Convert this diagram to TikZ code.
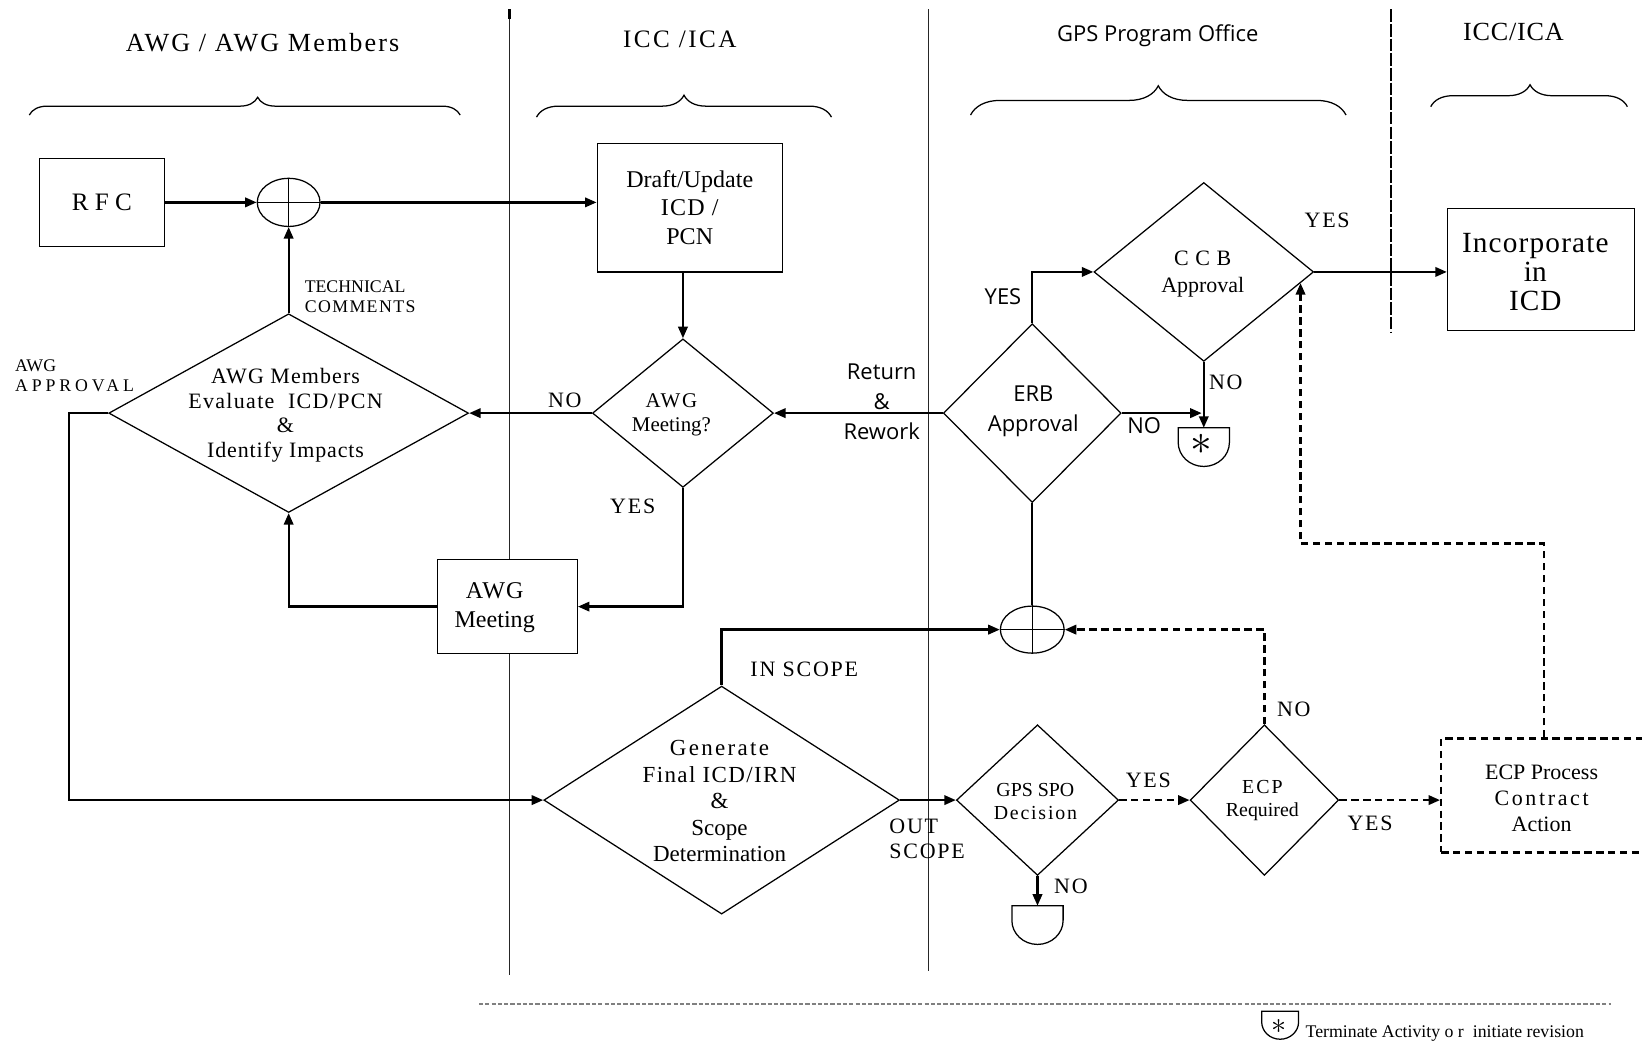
\documentclass[tikz,border=0pt]{standalone}
\usepackage{fontspec}
\setmainfont{Liberation Serif}
\newfontfamily\sansf{Open Sans}
\usetikzlibrary{shapes.geometric,arrows.meta,decorations.pathreplacing,calc}
\newcommand\fsz[2]{\fontsize{#1}{#2}\selectfont}
\newcommand\lsp[2]{{\addfontfeatures{LetterSpace=#1}#2}}
\begin{document}
\begin{tikzpicture}[x=0.5pt,y=-0.5pt,line join=miter,
  box/.style={draw, line width=0.6pt, fill=white, inner sep=0pt, align=center},
  dia/.style={draw, diamond, line width=0.6pt, fill=white, inner sep=0pt},
  junc/.style={draw, ellipse, line width=0.6pt, fill=white, inner sep=0pt},
  conn/.style={line width=1.1pt, -{Triangle[length=5.5pt,width=4.5pt]}},
  plainconn/.style={line width=1.1pt},
  dconn/.style={conn, dash pattern=on 3.5pt off 2.2pt},
  txt/.style={inner sep=0pt, align=center},
  lab/.style={txt, font={\fsz{10.5}{12}\addfontfeatures{LetterSpace=8}}},
  slab/.style={txt, font={\sansf\fsz{10.5}{12}}},
  lane/.style={line width=0.5pt, black!85},
  brc/.style={line width=0.6pt, decorate},
  term/.pic={\draw[line width=0.6pt, fill=white] (-24.5,0) -- (24.5,0) -- (24.5,14)
     .. controls (24.5,26.7) and (13.5,37) .. (0,37)
     .. controls (-13.5,37) and (-24.5,26.7) .. (-24.5,14) -- cycle;}
]
\useasboundingbox (0,0) rectangle (1570,998);
\fill[white] (0,0) rectangle (1570,998);

% lanes
\draw[lane] (487,9) -- (487,932);
\draw[line width=1.5pt] (487,9) -- (487,18);
\draw[lane] (888,9) -- (888,928);
\draw[line width=1pt, dash pattern=on 6pt off 1pt] (1330,9) -- (1330,318);

% headers
\node[txt, font=\fsz{12.5}{14}] (h1) at (251,41) {\lsp{8}{AWG / AWG Members}};
\node[txt, font=\fsz{12}{14}] (h2) at (650,38) {\lsp{10}{ICC /ICA}};
\node[txt, font=\sansf\fsz{10.5}{12}] (h3) at (1107,34) {GPS Program Office};
\node[txt, font=\fsz{12.5}{14}] (h4) at (1447,31) {\lsp{3}{ICC/ICA}};

% braces
\draw[brc, decoration={brace, amplitude=8.5pt, aspect=0.53}] (28,110) -- (440,110);
\draw[brc, decoration={brace, amplitude=10.5pt, aspect=0.5}] (513,112) -- (795,112);
\draw[brc, decoration={brace, amplitude=14pt, aspect=0.5}] (928,110) -- (1287,110);
\draw[brc, decoration={brace, amplitude=10.5pt, aspect=0.505}] (1368,102) -- (1556,102);

% nodes
\node[box, minimum width=59.5pt, minimum height=42pt, font=\fsz{12}{14}] (rfc) at (97.5,193.5) {\lsp{25}{RFC}};
\node[junc, minimum width=30pt, minimum height=23pt] (j1) at (276,193.5) {};
\draw[line width=0.6pt] (j1.north) -- (j1.south) (j1.west) -- (j1.east);
\node[box, minimum width=88.5pt, minimum height=61.5pt, font=\fsz{11.5}{13.75}] (draft) at (659.5,198.5) {Draft/Update\\\lsp{5}{ICD /}\\PCN};
\node[dia, minimum width=86.5pt, minimum height=71pt] (awgq) at (653,395) {};
\node[dia, minimum width=172pt, minimum height=95pt] (eval) at (276,395) {};
\node[box, minimum width=67pt, minimum height=45pt] (meet) at (485,580) {};
\node[dia, minimum width=170pt, minimum height=109pt] (gen) at (690,765) {};
\node[junc, minimum width=30.5pt, minimum height=22.5pt] (j2) at (987,602) {};
\draw[line width=0.6pt] (j2.north) -- (j2.south) (j2.west) -- (j2.east);
\node[dia, minimum width=85pt, minimum height=85.5pt] (erb) at (987,395) {};
\node[dia, minimum width=105pt, minimum height=85.5pt] (ccb) at (1151,260) {};
\node[box, minimum width=89.5pt, minimum height=58.5pt] (inc) at (1473.5,257.5) {};
\node[dia, minimum width=77.5pt, minimum height=72pt] (spo) at (992,765) {};
\node[dia, minimum width=71pt, minimum height=72pt] (ecpr) at (1209,765) {};
\node[draw, line width=1.1pt, dash pattern=on 3.5pt off 2.2pt, fill=white, inner sep=0pt, minimum width=98pt, minimum height=54.5pt] (ecp) at (1476,760.5) {};

% terminators
\coordinate (t1) at (1151,409);
\pic at (t1) {term};
\node[txt, font=\fsz{20}{20}] (t1s) at (1149,425) {$\ast$};
\coordinate (t2) at (992,866);
\pic at (t2) {term};

% node texts
\node[txt, font=\fsz{10}{11.5}] (awgqt) at (642,397) {\lsp{8}{AWG}\\Meeting?};
\node[txt, font=\fsz{10.5}{11.8}] (evalt) at (273,397) {\lsp{5}{AWG Members}\\\lsp{6}{Evaluate\ \ ICD/PCN}\\\&\\\lsp{4}{Identify Impacts}};
\node[txt, font=\fsz{11.5}{13.5}] (meett) at (473,581) {\lsp{4}{AWG}\\Meeting};
\node[txt, font=\fsz{11}{12.6}] (gent) at (688,766) {\lsp{10}{Generate}\\\lsp{6}{Final ICD/IRN}\\\&\\Scope\\Determination};
\node[txt, font=\sansf\fsz{10.5}{14.5}] (erbt) at (988,393) {ERB\\Approval};
\node[txt, font=\fsz{10.5}{12.5}] (ccbt) at (1150,262) {\lsp{30}{CCB}\\Approval};
\node[txt, font=\fsz{14}{14}] (inct) at (1468,260) {\lsp{4}{Incorporate}\\in\\\lsp{3}{ICD}};
\node[txt, font=\fsz{9.5}{11}] (spot) at (990,766) {GPS SPO\\\lsp{9}{Decision}};
\node[txt, font=\fsz{9.5}{11}] (ecprt) at (1207,765) {\lsp{10}{ECP}\\Required};
\node[txt, font=\fsz{10.5}{12.5}] (ecpt) at (1474,763) {ECP Process\\\lsp{12}{Contract}\\Action};

% connectors
\draw[conn] (rfc.east) -- (j1.west);
\draw[conn] (j1.east) -- (j1.east -| draft.west);
\draw[conn] (draft.south -| awgq.north) -- (awgq.north);
\draw[conn] (erb.west) -- (awgq.east);
\draw[conn] (awgq.west) -- (eval.east);
\draw[conn] (eval.north) -- (j1.south);
\draw[conn] (awgq.south) |- (meet.east);
\draw[conn] (meet.west) -| (eval.south);
\coordinate (appr) at (66,765);
\draw[conn] (eval.west) -| (appr) -- (gen.west);
\draw[conn] (gen.north) |- (j2.west);
\draw[plainconn] (erb.south) -- (j2.north);
\draw[conn] (erb.north) |- (ccb.west);
\draw[conn] (ccb.east) -- (ccb.east -| inc.west);
\draw[conn] (ccb.south) -- (t1);
\draw[conn, shorten >=1pt] (erb.east) -- (erb.east -| t1);
\draw[conn] (gen.east) -- (spo.west);
\draw[conn] (spo.south) -- (t2);
\draw[dconn] (spo.east) -- (ecpr.west);
\draw[dconn] (ecpr.north) |- (j2.east);
\draw[dconn] (ecpr.east) -- (ecpr.east -| ecp.west);
\coordinate (c3) at ($(ccb.east)!0.124!(ccb.south)$);
\draw[dconn] (ecp.north) |- ($(c3)+(0,249)$) -- (c3);

% labels
\node[txt, font=\fsz{8.5}{9.5}, align=left, anchor=west] (lt) at (291,284) {TECHNICAL\\\lsp{8}{COMMENTS}};
\node[txt, font=\fsz{8.5}{9.5}, align=left, anchor=west] (la) at (14,359) {AWG\\\lsp{22}{APPROVAL}};
\node[lab] (lno1) at (540,383) {NO};
\node[lab] (lyes1) at (605,484) {YES};
\node[txt, font=\sansf\fsz{10.5}{14.5}] (ret) at (843,384) {Return\\\&\\Rework};
\node[slab] (lyes2) at (959,284) {YES};
\node[slab] (lno2) at (1094,407) {NO};
\node[lab] (lyes3) at (1269,211) {YES};
\node[lab] (lno3) at (1172,366) {NO};
\node[lab] (lin) at (769,640) {IN SCOPE};
\node[lab, align=left, anchor=west] (lout) at (850,802) {OUT\\SCOPE};
\node[lab] (lno4) at (1024,847) {NO};
\node[lab] (lyes4) at (1098,746) {YES};
\node[lab] (lno5) at (1237,678) {NO};
\node[lab] (lyes5) at (1310,787) {YES};

% legend
\draw[gray, line width=0.6pt, dash pattern=on 2pt off 1pt] (458,960) -- (1540,960);
\coordinate (tl) at (1224,967);
\pic[scale=0.72] at (tl) {term};
\node[txt, font=\fsz{15}{15}] (tls) at (1223,981) {$\ast$};
\node[txt, anchor=west, font=\fsz{8.5}{10}] (leg) at (1248,988) {Terminate Activity o r\ \ initiate revision};
\end{tikzpicture}
\end{document}
